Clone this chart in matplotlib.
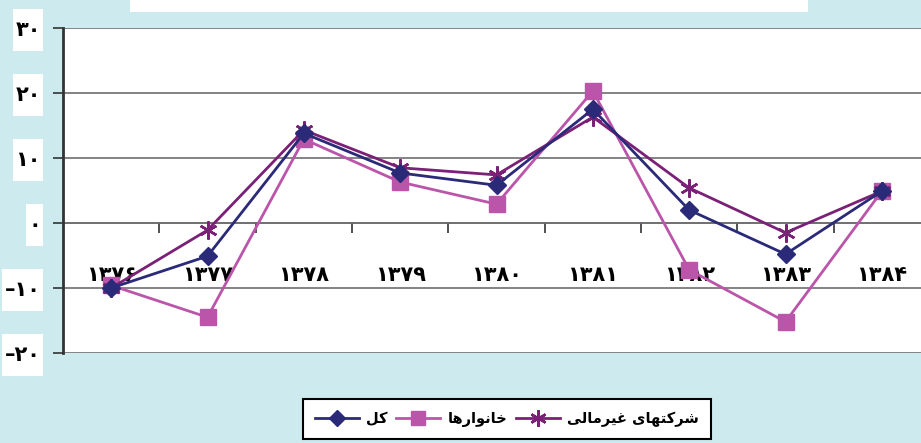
import matplotlib
matplotlib.use("Agg")
import matplotlib.pyplot as plt
from matplotlib.patches import Rectangle

plt.rcParams['font.family'] = ['DejaVu Sans']

# ---- data ----
years = ["۱۳۷۶", "۱۳۷۷", "۱۳۷۸", "۱۳۷۹", "۱۳۸۰", "۱۳۸۱", "۱۳۸۲", "۱۳۸۳", "۱۳۸۴"]
total = [-10.0, -5.1, 13.8, 7.7, 5.8, 17.5, 2.0, -4.8, 4.9]
households = [-9.6, -14.5, 12.9, 6.3, 2.9, 20.3, -7.2, -15.2, 4.9]
firms = [-10.0, -1.1, 14.3, 8.5, 7.4, 16.3, 5.4, -1.5, 4.9]
yticks = [-20, -10, 0, 10, 20, 30]
ytick_labels = ["–۲۰", "–۱۰", "۰", "۱۰", "۲۰", "۳۰"]

# Legend labels (Persian, pre-shaped presentation forms in visual order)
def visual(s):
    return s[::-1]
lab_total = visual("\uFB90\uFEDE")  # کل
lab_house = visual("\uFEA7\uFE8E\uFEE7\uFEEE\uFE8D\uFEAD\uFEEB\uFE8E")  # خانوارها
lab_firms = visual("\uFEB7\uFEAE\uFB90\uFE98\uFEEC\uFE8E\uFBFC \uFECF\uFBFF\uFEAE\uFEE3\uFE8E\uFEDF\uFBFD")  # شرکتهای غیرمالی

W, H = 921, 443
fig = plt.figure(figsize=(W / 100, H / 100), dpi=100)
fig.patch.set_facecolor('#CDEBEF')

# top white box
fig.patches.append(Rectangle((130 / W, 1 - 12 / H), 678 / W, 12 / H,
                             transform=fig.transFigure, fc='white', ec='none'))

left, right = 63, 930
top, bottom = 28, 353
ax = fig.add_axes([left / W, 1 - bottom / H, (right - left) / W, (bottom - top) / H])
ax.set_facecolor('white')

x = list(range(len(years)))
ax.set_xlim(-0.5, len(years) - 0.5)
ax.set_ylim(-20, 30)

grid_c = '#6E6E6E'
for v in yticks:
    ax.axhline(v, color=grid_c, lw=1.2, zorder=1)

ax.plot(x, households, color='#BB55AA', lw=2.0, marker='s', ms=11,
        mfc='#BB55AA', mec='#BB55AA', zorder=3, label=lab_house)
ax.plot(x, firms, color='#7A2077', lw=2.0, marker=(6, 2, 0), ms=13,
        mew=1.8, zorder=4, label=lab_firms)
ax.plot(x, total, color='#2A2A78', lw=2.0, marker='D', ms=9,
        mfc='#2A2A78', mec='#2A2A78', zorder=5, label=lab_total)

for s in ['top', 'right', 'bottom']:
    ax.spines[s].set_visible(False)
ax.spines['left'].set_color('#333333')
ax.spines['left'].set_linewidth(2)
ax.spines['left'].set_zorder(6)

ax.set_yticks(yticks)
ax.set_yticklabels(ytick_labels, fontsize=15, fontweight='bold')
ax.tick_params(axis='y', direction='out', length=7, width=1.2, color='#333333', pad=9)
for t in ax.get_yticklabels():
    t.set_bbox(dict(boxstyle='square,pad=0.12', fc='white', ec='none'))
    t.get_bbox_patch().set_mutation_aspect(4.5)

# x axis at zero: boundary ticks + centered labels
ax.spines['bottom'].set_visible(True)
ax.spines['bottom'].set_position(('data', 0))
ax.spines['bottom'].set_color(grid_c)
ax.spines['bottom'].set_linewidth(1.2)
ax.set_xticks([i + 0.5 for i in range(len(years) - 1)])
ax.set_xticklabels([])
ax.tick_params(axis='x', which='major', direction='out', length=7, width=1.2, color='#333333')
ax.set_xticks(x, minor=True)
ax.set_xticklabels(years, minor=True, fontsize=15, fontweight='bold')
ax.tick_params(axis='x', which='minor', length=0, pad=30)

h, l = ax.get_legend_handles_labels()
order = [2, 0, 1]
leg = fig.legend([h[i] for i in order], [l[i] for i in order], ncol=3,
                 loc='center', bbox_to_anchor=(507 / W, 1 - 419 / H),
                 frameon=True, fancybox=False, edgecolor='black', facecolor='white',
                 framealpha=1, prop={'weight': 'bold', 'size': 10.5}, handlelength=3.0,
                 columnspacing=0.6, handletextpad=0.5, borderpad=0.8, markerscale=0.9)
leg.get_frame().set_linewidth(1.5)

fig.savefig('out.png', dpi=100, facecolor=fig.get_facecolor())
